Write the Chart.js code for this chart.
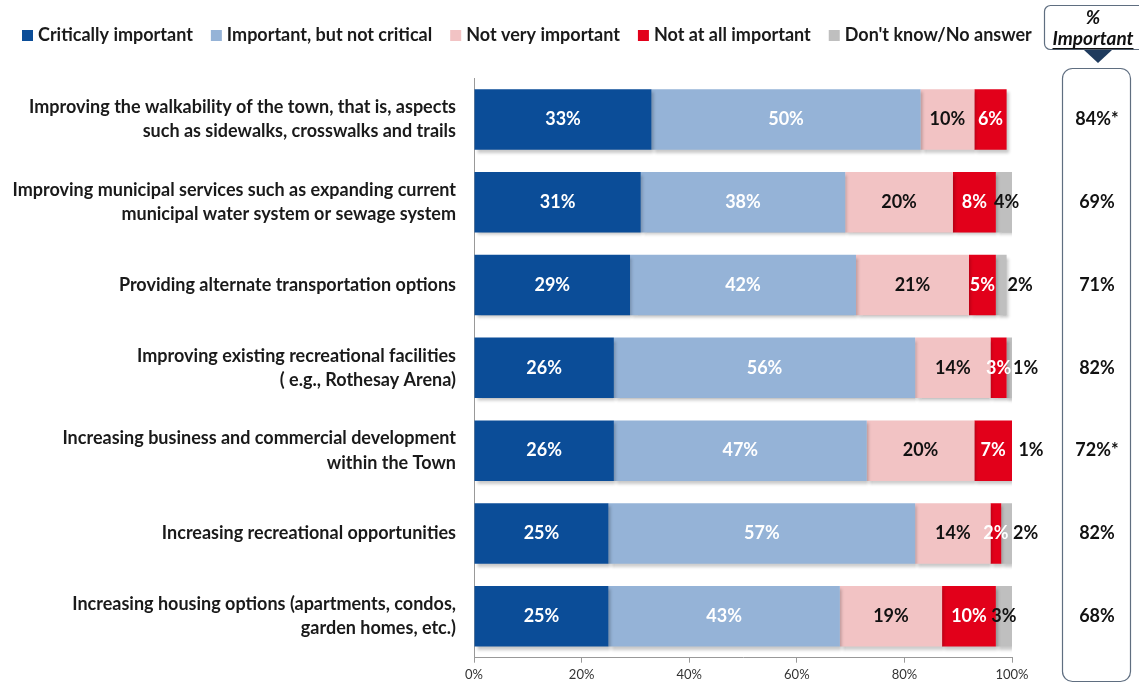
<!DOCTYPE html>
<html>
<head>
<meta charset="utf-8">
<script src="https://cdn.jsdelivr.net/npm/chart.js@4.4.1/dist/chart.umd.min.js"></script>
<style>
	body { margin: 0; background: #fff; }
	canvas { display: block; }
</style>
</head>
<body>
<canvas id="chart" width="1139" height="700"></canvas>
<script>
const categories = [
	["Improving the walkability of the town, that is, aspects", "such as sidewalks, crosswalks and trails"],
	["Improving municipal services such as expanding current", "municipal water system or sewage system"],
	"Providing alternate transportation options",
	["Improving existing recreational facilities", "( e.g., Rothesay Arena)"],
	["Increasing business and commercial development", "within the Town"],
	"Increasing recreational opportunities",
	["Increasing housing options (apartments, condos,", "garden homes, etc.)"],
];
const seriesNames = [
	"Critically important",
	"Important, but not critical",
	"Not very important",
	"Not at all important",
	"Don't know/No answer",
];
const critical = [33, 31, 29, 26, 26, 25, 25];
const importantNotCritical = [50, 38, 42, 56, 47, 57, 43];
const notVery = [10, 20, 21, 14, 20, 14, 19];
const notAtAll = [6, 8, 5, 3, 7, 2, 10];
const dontKnow = [0, 4, 2, 1, 1, 2, 3];
const pctImportant = ["84%*", "69%", "71%", "82%", "72%*", "82%", "68%"];
const xTicks = [0, 20, 40, 60, 80, 100];

const COLORS = ["#0b4d98", "#95b3d7", "#f2c3c4", "#e2001a", "#bfbfbf"];
const LABEL_COLORS = ["#fff", "#fff", "#111", "#fff", "#111"];
const FONT = "Lato, 'Noto Sans', sans-serif";

const seriesData = [critical, importantNotCritical, notVery, notAtAll, dontKnow];

// shadow under the bars
const barShadow = {
	id: "barShadow",
	beforeDatasetsDraw(chart) {
		const ctx = chart.ctx;
		ctx.save();
		ctx.shadowColor = "rgba(0,0,0,0.22)";
		ctx.shadowOffsetX = 2;
		ctx.shadowOffsetY = 3;
		ctx.shadowBlur = 3;
	},
	afterDatasetsDraw(chart) {
		chart.ctx.restore();
	},
};

// values written on the segments
const segLabels = {
	id: "segLabels",
	afterDatasetsDraw(chart) {
		const ctx = chart.ctx;
		ctx.save();
		ctx.font = "bold 18px " + FONT;
		ctx.textBaseline = "middle";
		chart.data.datasets.forEach((ds, di) => {
			const meta = chart.getDatasetMeta(di);
			meta.data.forEach((bar, i) => {
				const v = ds.data[i];
				if (!v) return;
				ctx.fillStyle = LABEL_COLORS[di];
				if (di == 4 && v <= 2) {
					ctx.textAlign = "left";
					ctx.fillText(v + "%", bar.x + 1, bar.y);
				} else {
					ctx.textAlign = "center";
					ctx.fillText(v + "%", (bar.x + bar.base) / 2, bar.y);
				}
			});
		});
		ctx.restore();
	},
};

// legend row across the top, left aligned like the original
const topLegend = {
	id: "topLegend",
	afterDraw(chart) {
		const ctx = chart.ctx;
		ctx.save();
		ctx.font = "bold 18px " + FONT;
		ctx.textBaseline = "middle";
		ctx.textAlign = "left";
		let x = 22;
		const y = 35;
		chart.data.datasets.forEach((ds) => {
			ctx.fillStyle = ds.backgroundColor;
			ctx.fillRect(x, y - 5, 11, 11);
			x += 16;
			ctx.fillStyle = "#1a1a1a";
			ctx.fillText(ds.label, x, y);
			x += ctx.measureText(ds.label).width + 18;
		});
		ctx.restore();
	},
};

function roundRect(ctx, x, y, w, h, r) {
	ctx.beginPath();
	ctx.moveTo(x + r, y);
	ctx.arcTo(x + w, y, x + w, y + h, r);
	ctx.arcTo(x + w, y + h, x, y + h, r);
	ctx.arcTo(x, y + h, x, y, r);
	ctx.arcTo(x, y, x + w, y, r);
	ctx.closePath();
}

// "% Important" column on the right
const importantCol = {
	id: "importantCol",
	afterDraw(chart) {
		const ctx = chart.ctx;
		const y = chart.scales.y;
		ctx.save();
		ctx.strokeStyle = "#5f6e80";
		ctx.lineWidth = 1.2;
		roundRect(ctx, 1044.5, 5.5, 100, 44, 6);
		ctx.stroke();
		roundRect(ctx, 1062.5, 68.5, 68, 613, 10);
		ctx.stroke();
		ctx.fillStyle = "#1f3b5e";
		ctx.beginPath();
		ctx.moveTo(1084, 50);
		ctx.lineTo(1112, 50);
		ctx.lineTo(1098, 63);
		ctx.closePath();
		ctx.fill();

		ctx.fillStyle = "#111";
		ctx.textAlign = "center";
		ctx.textBaseline = "middle";
		ctx.font = "italic bold 19px " + FONT;
		ctx.fillText("%", 1093, 18);
		ctx.fillText("Important", 1093, 39);
		const w = ctx.measureText("Important").width;
		ctx.fillRect(1093 - w / 2, 48, w, 1.2);

		ctx.font = "bold 18px " + FONT;
		pctImportant.forEach((t, i) => {
			ctx.fillText(t, 1097, y.getPixelForValue(i));
		});
		ctx.restore();
	},
};

new Chart(document.getElementById("chart"), {
	type: "bar",
	data: {
		labels: categories,
		datasets: seriesData.map((d, i) => ({
			label: seriesNames[i],
			data: d,
			backgroundColor: COLORS[i],
			borderWidth: 0,
			categoryPercentage: 1.0,
			barPercentage: 0.73,
		})),
	},
	plugins: [barShadow, segLabels, topLegend, importantCol],
	options: {
		responsive: false,
		animation: false,
		indexAxis: "y",
		layout: {
			padding: { left: 10, right: 127, top: 78, bottom: 4 },
		},
		plugins: {
			legend: { display: false },
			tooltip: { enabled: false },
		},
		scales: {
			x: {
				stacked: true,
				min: 0,
				max: 100,
				afterBuildTicks: (s) => {
					s.ticks = xTicks.map((v) => ({ value: v }));
				},
				ticks: {
					callback: (v) => v + "%",
					color: "#333",
					font: { family: FONT, size: 13 },
					padding: 4,
				},
				grid: {
					drawOnChartArea: false,
					drawTicks: true,
					tickLength: 5,
					color: "#999",
				},
				border: { color: "#999" },
			},
			y: {
				stacked: true,
				afterFit: (s) => {
					s.width = 464;
				},
				ticks: {
					color: "#1a1a1a",
					font: { family: FONT, size: 18, weight: "bold", lineHeight: 1.35 },
					padding: 18,
				},
				grid: { drawOnChartArea: false, drawTicks: false },
				border: { color: "#999" },
			},
		},
	},
});
</script>
</body>
</html>
